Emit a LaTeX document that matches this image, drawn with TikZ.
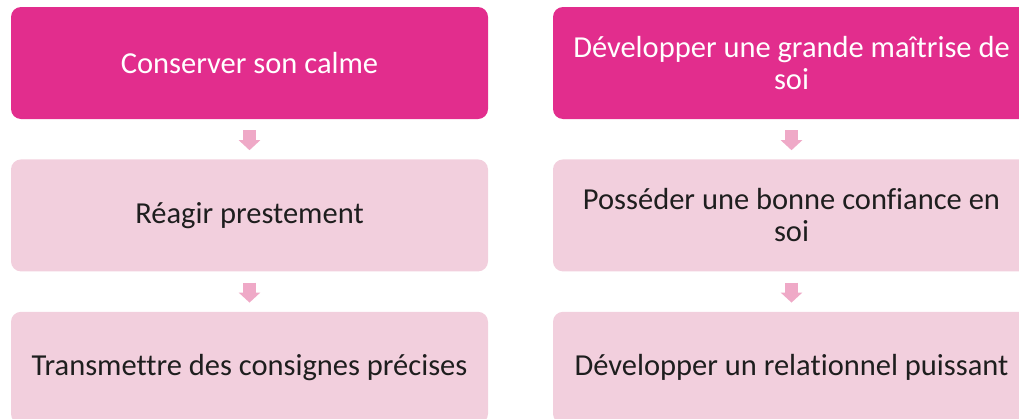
\documentclass[tikz,border=0pt]{standalone}
\usepackage{fontspec}
\setmainfont{Carlito}[Ligatures=NoCommon]
\usetikzlibrary{positioning,arrows.meta}

\definecolor{boxdark}{HTML}{E22D8D}
\definecolor{boxlight}{HTML}{F2CFDD}
\definecolor{arrowpink}{HTML}{EFA9C7}
\definecolor{textdark}{HTML}{1E1E1E}

\tikzset{
  stepbox/.style={rectangle, rounded corners=10pt, fill=boxlight,
    text=textdark, minimum width=477pt, minimum height=112pt,
    align=center, font=\fontsize{30.5}{32}\selectfont},
  headbox/.style={stepbox, fill=boxdark, text=white},
  downarrow/.style={draw=arrowpink, line width=13pt,
    -{Triangle[width=21pt,length=10pt]},
    shorten <=11pt, shorten >=9pt}
}

\begin{document}
\begin{tikzpicture}[x=1pt,y=-1pt,node distance=40pt]
\useasboundingbox (0,0) rectangle (1019,418);

% colonne de gauche
\node[headbox] (calme) at (249.5,63) {Conserver son calme};
\node[stepbox, below=of calme] (reagir) {Réagir prestement};
\node[stepbox, below=of reagir] (consignes) {Transmettre des consignes précises};

% colonne de droite
\node[headbox] (maitrise) at (791.5,63) {Développer une grande maîtrise de\\soi};
\node[stepbox, below=of maitrise] (confiance) {Posséder une bonne confiance en\\soi};
\node[stepbox, below=of confiance] (relationnel) {Développer un relationnel puissant};

% flèches
\draw[downarrow] (calme.south) -- (reagir.north);
\draw[downarrow] (reagir.south) -- (consignes.north);
\draw[downarrow] (maitrise.south) -- (confiance.north);
\draw[downarrow] (confiance.south) -- (relationnel.north);
\end{tikzpicture}
\end{document}
